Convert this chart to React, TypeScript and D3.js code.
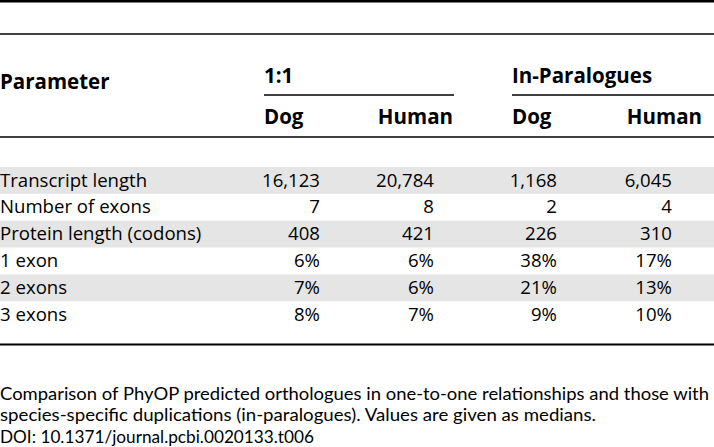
import React from "react";
import * as d3 from "d3";

const parameters = [
  "Transcript length",
  "Number of exons",
  "Protein length (codons)",
  "1 exon",
  "2 exons",
  "3 exons",
];
const rowKinds = ["count", "count", "count", "pct", "pct", "pct"];
const oneToOneDog = [16123, 7, 408, 6, 7, 8];
const oneToOneHuman = [20784, 8, 421, 6, 6, 7];
const inParaDog = [1168, 2, 226, 38, 21, 9];
const inParaHuman = [6045, 4, 310, 17, 13, 10];

const groupHeaders = ["1:1", "In-Paralogues"];
const subHeaders = ["Dog", "Human", "Dog", "Human"];
const columnKeys = ["d11", "h11", "dip", "hip"];
const captionLines = [
  "Comparison of PhyOP predicted orthologues in one-to-one relationships and those with",
  "species-specific duplications (in-paralogues). Values are given as medians.",
  "DOI: 10.1371/journal.pcbi.0020133.t006",
];

const W = 714;
const H = 447;
const FONT = "'Open Sans', 'Noto Sans', sans-serif";
const CAPTION_FONT = "Lato, 'Open Sans', sans-serif";

export default function App() {
  const columns = [oneToOneDog, oneToOneHuman, inParaDog, inParaHuman];
  const y = d3.scaleBand<string>().domain(parameters).range([167, 328]).padding(0);
  const xNum = d3.scaleOrdinal<string, number>().domain(columnKeys).range([320, 434, 557, 672]);
  const xHead = d3.scaleOrdinal<string, number>().domain(columnKeys).range([264, 453, 512, 702]);
  const headAnchor = ["start", "end", "start", "end"];
  const groupSpans: [number, number][] = [
    [264, 454],
    [512, 714],
  ];
  const fmtCount = d3.format(",");
  const fmt = (v: number, kind: string) => (kind === "pct" ? `${v}%` : fmtCount(v));
  const captionWidths = [709, 596, 314];
  const HEAD_FS = 20.5;
  const BODY_FS = 18.6;

  return (
    <svg
      width={W}
      height={H}
      style={{ position: "absolute", left: 0, top: 0, background: "#fff" }}
      fontFamily={FONT}
    >
      <rect x={0} y={0} width={W} height={H} fill="#fff" />
      <line x1={0} x2={W} y1={1.2} y2={1.2} stroke="#000" strokeWidth={2.4} />
      <line x1={0} x2={W} y1={34} y2={34} stroke="#000" strokeWidth={1.5} />
      <line x1={0} x2={W} y1={137} y2={137} stroke="#000" strokeWidth={1.5} />
      <line x1={0} x2={W} y1={344.5} y2={344.5} stroke="#000" strokeWidth={2} />

      <text x={0} y={89} fontWeight="bold" fontSize={HEAD_FS} fill="#000">
        Parameter
      </text>
      {groupHeaders.map((g, i) => (
        <g key={g}>
          <text x={groupSpans[i][0]} y={83} fontWeight="bold" fontSize={HEAD_FS} fill="#000">
            {g}
          </text>
          <line
            x1={groupSpans[i][0]}
            x2={groupSpans[i][1]}
            y1={95}
            y2={95}
            stroke="#000"
            strokeWidth={1.5}
          />
        </g>
      ))}
      {subHeaders.map((s, i) => (
        <text
          key={i}
          x={xHead(columnKeys[i])}
          y={124}
          textAnchor={headAnchor[i]}
          fontWeight="bold"
          fontSize={HEAD_FS}
          fill="#000"
        >
          {s}
        </text>
      ))}

      {parameters.map((p, r) => {
        const y0 = y(p) as number;
        const bh = y.bandwidth();
        return (
          <g key={p}>
            {r % 2 === 0 && <rect x={0} y={y0} width={W} height={bh} fill="#e5e5e5" />}
            <text x={0} y={y0 + 19.5} fontSize={BODY_FS} fill="#000">
              {p}
            </text>
            {columns.map((col, c) => (
              <text
                key={c}
                x={xNum(columnKeys[c])}
                y={y0 + 19.5}
                textAnchor="end"
                fontSize={BODY_FS}
                fill="#000"
              >
                {fmt(col[r], rowKinds[r])}
              </text>
            ))}
          </g>
        );
      })}

      {captionLines.map((line, i) => (
        <text
          key={i}
          x={0}
          y={399.5 + i * 21.5}
          fontSize={17.5}
          fontFamily={CAPTION_FONT}
          fill="#000"
          textLength={captionWidths[i]}
          lengthAdjust="spacingAndGlyphs"
        >
          {line}
        </text>
      ))}
    </svg>
  );
}
